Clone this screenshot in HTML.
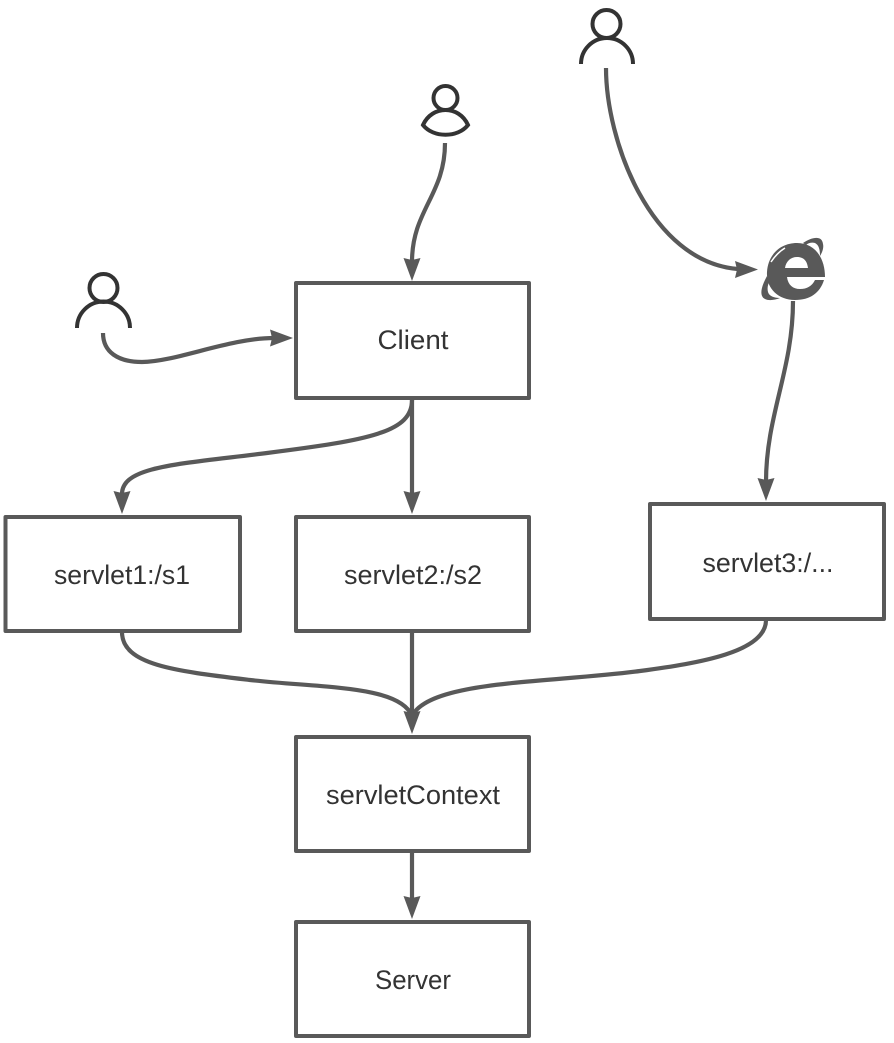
<!DOCTYPE html>
<html><head><meta charset="utf-8"><style>
html,body{margin:0;padding:0;background:#fff}
svg{display:block}
text{font-family:"Liberation Sans","DejaVu Sans",sans-serif;font-size:27px;fill:#333;text-anchor:middle}
.b{fill:#fff;stroke:#595959;stroke-width:4;stroke-linejoin:round}
.c{fill:none;stroke:#595959;stroke-width:4.2}
.a{fill:#595959}
.p{fill:none;stroke:#333;stroke-width:4}
</style></head><body>
<svg width="894" height="1043" viewBox="0 0 894 1043" xmlns="http://www.w3.org/2000/svg">
<rect width="894" height="1043" fill="#fff"/>
<!-- boxes -->
<rect class="b" x="296" y="283" width="233" height="115"/>
<rect class="b" x="5.500" y="517" width="234.500" height="114"/>
<rect class="b" x="296" y="517" width="233" height="114"/>
<rect class="b" x="650" y="504" width="234" height="115"/>
<rect class="b" x="296" y="737" width="233" height="114"/>
<rect class="b" x="296" y="922" width="233" height="114"/>
<!-- connectors -->
<path class="c" d="M445 143C445 195 412 210 412 262"/>
<path class="a" d="M412 281L403.500 258L412 260L420.500 258Z"/>
<path class="c" d="M103 333C103 352 118 362 142 362C175 362 230 338 274 338"/>
<path class="a" d="M293 338L270 329.500L272 338L270 346.500Z"/>
<path class="c" d="M606 68C606 140 650 262 738 269"/>
<path class="a" d="M758 269.500L735 261L737 269.500L735 278Z"/>
<path class="c" d="M793 301C793 370 766 415 766 482"/>
<path class="a" d="M766 501L757.500 478L766 480L774.500 478Z"/>
<path class="c" d="M412 400C412 432 370 440 267 453C180 464 122 466 122 494"/>
<path class="a" d="M122 514L113.500 491L122 493L130.500 491Z"/>
<path class="c" d="M412 400V494"/>
<path class="a" d="M412 514L403.500 491L412 493L420.500 491Z"/>
<path class="c" d="M122 632C122 665 175 671 250 680C320 688 400 685 412 716"/>
<path class="c" d="M766 620C766 652 700 663 640 671C550 683 430 680 412 716"/>
<path class="c" d="M412 632V714"/>
<path class="a" d="M412 734L403.500 711L412 713L420.500 711Z"/>
<path class="c" d="M412 852V898"/>
<path class="a" d="M412 919L403.500 896L412 898L420.500 896Z"/>
<!-- labels -->
<text x="413" y="349" textLength="71" lengthAdjust="spacingAndGlyphs">Client</text>
<text x="122" y="584" textLength="136" lengthAdjust="spacingAndGlyphs">servlet1:/s1</text>
<text x="413" y="584" textLength="138" lengthAdjust="spacingAndGlyphs">servlet2:/s2</text>
<text x="768" y="572" textLength="131" lengthAdjust="spacingAndGlyphs">servlet3:/...</text>
<text x="413" y="804" textLength="174" lengthAdjust="spacingAndGlyphs">servletContext</text>
<text x="413" y="989" textLength="76" lengthAdjust="spacingAndGlyphs">Server</text>
<!-- people -->
<circle class="p" cx="606.500" cy="24" r="14"/>
<path class="p" d="M581 64A26 26 0 0 1 633 64"/>
<circle class="p" cx="445.500" cy="98" r="12"/>
<path class="p" d="M423 125C432 105 459 105 468 125C458 138 433 138 423 125Z"/>
<circle class="p" cx="103.500" cy="288" r="14"/>
<path class="p" d="M77 328A26.500 26.500 0 0 1 130 328"/>
<!-- browser icon -->
<path class="a" fill-rule="evenodd" d="M797 243C815 243 825 258 825 277H787C788 285 793 289 800 289C807 289 812 286 815 280H824C820 293 810 300 795 300C778 300 766 288 767 272C768 255 780 243 797 243ZM785 268H808C807 260 803 257 797 257C791 257 786 261 785 268Z"/>
<path class="a" d="M803 243C812 237 822 235 823 244C824 248 822 253 820 256C820 250 819 245 815 243C812 242 808 243 806 245Z"/>
<path class="a" d="M767 276C761 287 759 296 765 299C769 301 775 300 780 298C774 298 769 296 768 292C767 288 768 285 769 282Z"/>
<path d="M771 262C775 256 780 251 785 248" fill="none" stroke="#fff" stroke-width="1.500"/>
</svg>
</body></html>
